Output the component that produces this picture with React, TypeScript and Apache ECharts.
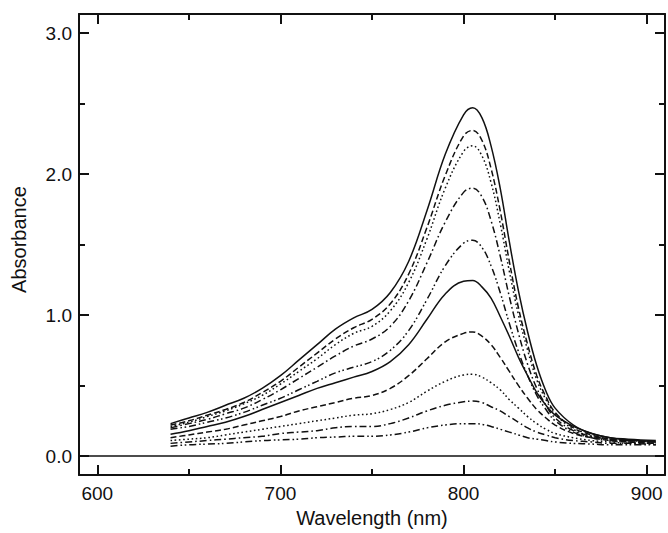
import React, { useEffect, useRef } from "react";
import * as echarts from "echarts";

// Wavelength grid (nm)
const WAVELENGTHS = [640, 650, 660, 670, 680, 690, 700, 710, 720, 730, 740, 750, 760, 770, 780, 790, 800, 805, 810, 815, 820, 825, 830, 835, 840, 845, 850, 860, 870, 880, 890, 905];

// Absorbance spectra, top to bottom
const SPEC_1 = [0.23, 0.27, 0.31, 0.36, 0.41, 0.48, 0.57, 0.68, 0.79, 0.90, 0.98, 1.04, 1.16, 1.38, 1.74, 2.14, 2.42, 2.47, 2.40, 2.20, 1.90, 1.52, 1.17, 0.88, 0.64, 0.46, 0.34, 0.22, 0.16, 0.13, 0.12, 0.11];
const SPEC_2 = [0.22, 0.25, 0.29, 0.33, 0.38, 0.45, 0.53, 0.63, 0.73, 0.83, 0.91, 0.97, 1.08, 1.29, 1.62, 1.99, 2.27, 2.31, 2.24, 2.04, 1.74, 1.38, 1.05, 0.79, 0.57, 0.42, 0.31, 0.20, 0.15, 0.12, 0.11, 0.10];
const SPEC_3 = [0.21, 0.24, 0.28, 0.32, 0.37, 0.43, 0.51, 0.60, 0.69, 0.79, 0.87, 0.92, 1.03, 1.23, 1.54, 1.90, 2.16, 2.20, 2.13, 1.94, 1.65, 1.31, 1.00, 0.75, 0.54, 0.40, 0.30, 0.19, 0.14, 0.12, 0.11, 0.10];
const SPEC_4 = [0.20, 0.23, 0.26, 0.30, 0.34, 0.40, 0.47, 0.55, 0.63, 0.71, 0.78, 0.83, 0.92, 1.10, 1.37, 1.66, 1.87, 1.90, 1.84, 1.67, 1.42, 1.13, 0.87, 0.65, 0.48, 0.36, 0.27, 0.18, 0.14, 0.12, 0.11, 0.10];
const SPEC_5 = [0.19, 0.21, 0.24, 0.27, 0.31, 0.36, 0.41, 0.47, 0.53, 0.59, 0.63, 0.67, 0.75, 0.89, 1.11, 1.35, 1.51, 1.53, 1.48, 1.35, 1.16, 0.94, 0.74, 0.57, 0.43, 0.33, 0.25, 0.17, 0.13, 0.11, 0.10, 0.09];
const SPEC_6 = [0.155, 0.18, 0.21, 0.24, 0.28, 0.33, 0.38, 0.43, 0.48, 0.52, 0.56, 0.60, 0.67, 0.79, 0.97, 1.15, 1.24, 1.245, 1.20, 1.12, 0.99, 0.85, 0.70, 0.57, 0.45, 0.36, 0.29, 0.21, 0.16, 0.13, 0.115, 0.10];
const SPEC_7 = [0.13, 0.15, 0.17, 0.19, 0.22, 0.25, 0.28, 0.32, 0.35, 0.38, 0.41, 0.43, 0.48, 0.57, 0.69, 0.81, 0.87, 0.88, 0.85, 0.79, 0.70, 0.60, 0.50, 0.41, 0.33, 0.27, 0.22, 0.16, 0.13, 0.11, 0.10, 0.09];
const SPEC_8 = [0.11, 0.12, 0.13, 0.15, 0.17, 0.19, 0.21, 0.23, 0.25, 0.27, 0.29, 0.30, 0.33, 0.38, 0.46, 0.53, 0.575, 0.58, 0.56, 0.52, 0.47, 0.40, 0.34, 0.28, 0.23, 0.19, 0.16, 0.13, 0.11, 0.10, 0.09, 0.09];
const SPEC_9 = [0.09, 0.10, 0.11, 0.12, 0.13, 0.14, 0.16, 0.17, 0.18, 0.20, 0.21, 0.21, 0.23, 0.27, 0.32, 0.36, 0.385, 0.39, 0.38, 0.35, 0.32, 0.28, 0.24, 0.20, 0.17, 0.15, 0.13, 0.11, 0.10, 0.09, 0.09, 0.08];
const SPEC_10 = [0.07, 0.08, 0.085, 0.09, 0.10, 0.11, 0.115, 0.12, 0.13, 0.135, 0.14, 0.14, 0.15, 0.17, 0.20, 0.22, 0.23, 0.23, 0.225, 0.21, 0.19, 0.17, 0.15, 0.13, 0.12, 0.11, 0.10, 0.09, 0.085, 0.08, 0.08, 0.08];

const SPECTRA = [SPEC_1, SPEC_2, SPEC_3, SPEC_4, SPEC_5, SPEC_6, SPEC_7, SPEC_8, SPEC_9, SPEC_10];

// Axis values
const X_MIN = 590;
const X_MAX = 910;
const Y_MIN = -0.135;
const Y_MAX = 3.135;
const X_MAJOR = [600, 700, 800, 900];
const X_MINOR = [650, 750, 850];
const Y_MAJOR = [0, 1, 2, 3];
const Y_MINOR = [0.5, 1.5, 2.5];
const ZERO_LINE_X = [590, 910];

const INK = "#111111";
const FONT = "Liberation Sans, Arial, Helvetica, sans-serif";

const DASH_STYLES: any[] = [
  "solid",
  [6, 3],
  [1.6, 2.6],
  [7, 3, 1.6, 3],
  [7, 3, 1.6, 2.5, 1.6, 3],
];

export default function App() {
  const ref = useRef<HTMLDivElement>(null);

  useEffect(() => {
    if (!ref.current) return;
    const chart = echarts.init(ref.current, null, { renderer: "svg" });

    const lineSeries = SPECTRA.map((spec, i) => ({
      type: "line",
      name: "spectrum " + (i + 1),
      xAxisIndex: 0,
      yAxisIndex: 0,
      data: WAVELENGTHS.map((w, j) => [w, spec[j]]),
      smooth: 0.4,
      showSymbol: false,
      symbol: "none",
      lineStyle: { color: INK, width: 1.5, type: DASH_STYLES[i % 5] },
      z: 3,
    }));

    const zeroSeries = {
      type: "line",
      name: "zero",
      xAxisIndex: 0,
      yAxisIndex: 0,
      data: ZERO_LINE_X.map((x) => [x, 0]),
      showSymbol: false,
      symbol: "none",
      lineStyle: { color: INK, width: 1.6 },
      z: 2,
    };

    const baseX = {
      type: "value",
      min: X_MIN,
      max: X_MAX,
      splitLine: { show: false },
      gridIndex: 0,
    };
    const baseY = {
      type: "value",
      min: Y_MIN,
      max: Y_MAX,
      splitLine: { show: false },
      gridIndex: 0,
    };
    const axisLine = { show: true, onZero: false, lineStyle: { color: INK, width: 2 } };
    const noLine = { show: false, onZero: false };
    const tickStyle = { color: INK, width: 2 };

    const option = {
      animation: false,
      backgroundColor: "#ffffff",
      grid: { left: 79, top: 14, width: 586, height: 465, containLabel: false },
      xAxis: [
        {
          ...baseX,
          position: "bottom",
          axisLine,
          axisTick: { show: true, inside: true, length: 10, customValues: X_MAJOR, lineStyle: tickStyle },
          axisLabel: {
            show: true,
            customValues: X_MAJOR,
            margin: 9,
            fontSize: 19,
            color: INK,
            fontFamily: FONT,
            formatter: (v: number) => String(v),
          },
          name: "Wavelength (nm)",
          nameLocation: "middle",
          nameGap: 29,
          nameTextStyle: { fontSize: 20, color: INK, fontFamily: FONT },
        },
        {
          ...baseX,
          position: "bottom",
          axisLine: noLine,
          axisTick: { show: true, inside: true, length: 6, customValues: X_MINOR, lineStyle: tickStyle },
          axisLabel: { show: false },
        },
        {
          ...baseX,
          position: "top",
          axisLine,
          axisTick: { show: true, inside: true, length: 10, customValues: X_MAJOR, lineStyle: tickStyle },
          axisLabel: { show: false },
        },
        {
          ...baseX,
          position: "top",
          axisLine: noLine,
          axisTick: { show: true, inside: true, length: 6, customValues: X_MINOR, lineStyle: tickStyle },
          axisLabel: { show: false },
        },
      ],
      yAxis: [
        {
          ...baseY,
          position: "left",
          axisLine,
          axisTick: { show: true, inside: true, length: 10, customValues: Y_MAJOR, lineStyle: tickStyle },
          axisLabel: {
            show: true,
            customValues: Y_MAJOR,
            margin: 7,
            fontSize: 19,
            color: INK,
            fontFamily: FONT,
            formatter: (v: number) => v.toFixed(1),
          },
          name: "Absorbance",
          nameLocation: "middle",
          nameGap: 50,
          nameRotate: 90,
          nameTextStyle: { fontSize: 20, color: INK, fontFamily: FONT, padding: [0, 0, 0, 10] },
        },
        {
          ...baseY,
          position: "left",
          axisLine: noLine,
          axisTick: { show: true, inside: true, length: 6, customValues: Y_MINOR, lineStyle: tickStyle },
          axisLabel: { show: false },
        },
        {
          ...baseY,
          position: "right",
          axisLine,
          axisTick: { show: true, inside: true, length: 10, customValues: Y_MAJOR, lineStyle: tickStyle },
          axisLabel: { show: false },
        },
        {
          ...baseY,
          position: "right",
          axisLine: noLine,
          axisTick: { show: true, inside: true, length: 6, customValues: Y_MINOR, lineStyle: tickStyle },
          axisLabel: { show: false },
        },
      ],
      series: [zeroSeries, ...lineSeries],
    };

    chart.setOption(option as any);
    return () => {
      chart.dispose();
    };
  }, []);

  return (
    <div
      ref={ref}
      style={{ position: "fixed", left: 0, top: 0, width: 668, height: 533, background: "#fff" }}
    />
  );
}
